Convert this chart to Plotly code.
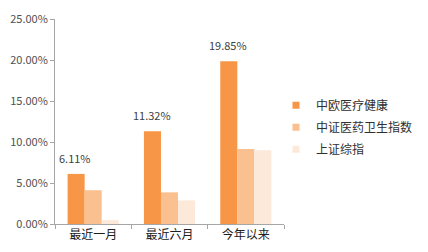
import plotly.graph_objects as go

categories = ["最近一月", "最近六月", "今年以来"]
series_names = ["中欧医疗健康", "中证医药卫生指数", "上证综指"]
fund = [6.11, 11.32, 19.85]
index_med = [4.12, 3.86, 9.15]
index_sh = [0.47, 2.88, 9.0]
colors = ["#F79646", "#FAC090", "#FDE9D9"]
y_ticks = [0, 5, 10, 15, 20, 25]

font_cjk = "Microsoft YaHei, Noto Sans CJK SC, sans-serif"

fig = go.Figure()
for name, vals, col in zip(series_names, [fund, index_med, index_sh], colors):
    fig.add_trace(go.Bar(x=categories, y=vals, name=name, marker_color=col,
                         marker_line_width=0, showlegend=False))
# legend entries with small square markers
for i, (name, col) in enumerate(zip(series_names, colors)):
    fig.add_trace(go.Scatter(x=[None], y=[None], mode="markers", name=name,
                             legendgroup=f"g{i}",
                             marker=dict(symbol="square", size=7, color=col)))

# value labels above the first series bars
for cat, v in zip(categories, fund):
    fig.add_annotation(x=cat, y=v, text=f"{v:.2f}%", showarrow=False,
                       xref="x", yref="y", yanchor="bottom", yshift=6, xshift=-18,
                       font=dict(size=11, color="#404040", family=font_cjk))

fig.update_layout(
    width=428, height=252,
    margin=dict(l=52, r=136, t=10, b=28),
    paper_bgcolor="white", plot_bgcolor="white",
    barmode="group", bargap=0.33, bargroupgap=0,
    font=dict(family=font_cjk, size=11, color="#404040"),
    showlegend=True,
    legend=dict(x=0.965, y=0.65, xanchor="left", yanchor="top",
                font=dict(size=12, color="#303030", family=font_cjk),
                itemwidth=30, tracegroupgap=3, bgcolor="rgba(0,0,0,0)"),
    xaxis=dict(showline=True, linecolor="#A6A6A6", linewidth=1,
               ticks="outside", tickson="boundaries", ticklen=4, tickcolor="#A6A6A6",
               tickfont=dict(size=12, color="#202020", family=font_cjk),
               showgrid=False),
    yaxis=dict(range=[0, 25], tickvals=y_ticks,
               ticktext=[f"{v:.2f}%" for v in y_ticks],
               showline=True, linecolor="#A6A6A6", linewidth=1,
               ticks="outside", ticklen=4, tickcolor="#A6A6A6",
               tickfont=dict(size=11, color="#505050", family=font_cjk),
               showgrid=False, zeroline=False),
)

fig.write_html("out.html")
